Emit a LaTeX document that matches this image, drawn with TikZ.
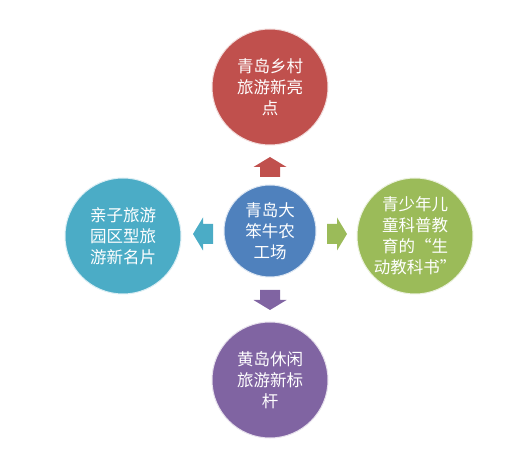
\documentclass[tikz,border=0pt]{standalone}
\usepackage{fontspec}
\setmainfont{Noto Sans CJK SC}
\definecolor{cred}{HTML}{C0504D}
\definecolor{cblue}{HTML}{4F81BD}
\definecolor{cgreen}{HTML}{9BBB59}
\definecolor{cpurple}{HTML}{8064A2}
\definecolor{caqua}{HTML}{4BACC6}
\begin{document}
\begin{tikzpicture}[x=1pt,y=-1pt,
  bub/.style={circle,draw=white!80!#1,line width=1pt,fill=#1,text=white,
    align=center,inner sep=0pt,minimum size=116pt,
    font=\fontsize{16.5}{21}\selectfont},
  pics/fatarrow/.style={code={
    \fill[#1] (-10,-10) -- (-10,0) -- (-16.5,0) -- (0,10) -- (16.5,0) -- (10,0) -- (10,-10) -- cycle;}}]
\useasboundingbox (0,0) rectangle (517,454);
\node[bub=cblue,minimum size=92pt] (c) at (270,231) {青岛大\\笨牛农\\工场};
\node[bub=cred] (t) at (270,87) {青岛乡村\\旅游新亮\\点};
\node[bub=cgreen] (r) at (415,236) {青少年儿\\童科普教\\育的“生\\动教科书”};
\node[bub=caqua] (l) at (123,236) {亲子旅游\\园区型旅\\游新名片};
\node[bub=cpurple] (b) at (270,380) {黄岛休闲\\旅游新标\\杆};
\pic[rotate=180] at (270,167) {fatarrow=cred};
\pic[rotate=90] at (337,234) {fatarrow=cgreen};
\pic[rotate=-90] at (203,234) {fatarrow=caqua};
\pic at (270,300) {fatarrow=cpurple};
\end{tikzpicture}
\end{document}
